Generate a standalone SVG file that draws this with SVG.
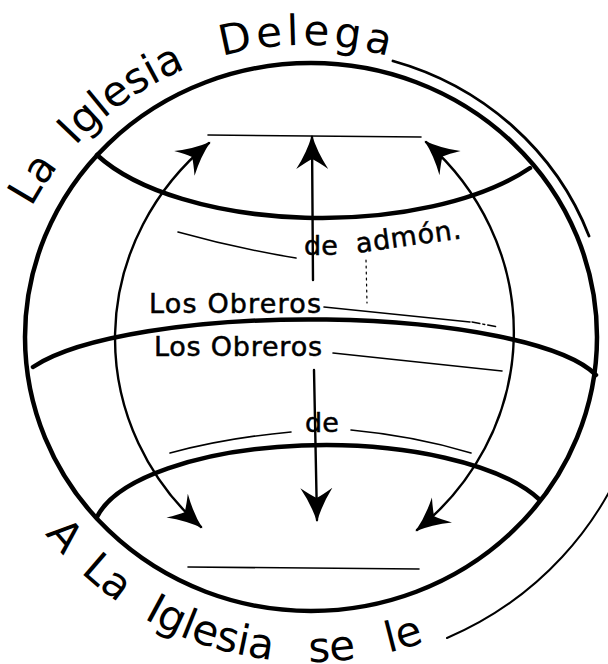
<svg xmlns="http://www.w3.org/2000/svg" width="608" height="664" viewBox="0 0 608 664">
<style>
.k{fill:none;stroke:#000;stroke-linecap:round}
.thick{stroke-width:4.5}
.thin{stroke-width:2.4}
.hair{stroke-width:1.6}
.t{font-family:"DejaVu Sans","Liberation Sans",sans-serif;fill:#000}
.big{font-size:42px}
.med{font-size:27px;stroke:#000;stroke-width:0.5}
</style>
<defs>
<marker id="ah" viewBox="-36 -18 40 36" refX="0" refY="0" markerWidth="40" markerHeight="36" markerUnits="userSpaceOnUse" orient="auto-start-reverse">
<path d="M2,0 Q-15,-5 -32,-16 Q-25,-6 -22,0 Q-25,6 -32,16 Q-15,5 2,0 Z" fill="#000"/>
</marker>
<path id="arcTop" d="M4.1,275.9 A311.5,311.5 0 0 1 460.75,86.7"/>
<path id="arcBot" d="M17.3,493 A338,338 0 0 0 602.7,493"/>
</defs>
<rect width="608" height="664" fill="#fff"/>
<g id="globe">
<ellipse class="k thick" cx="311" cy="337" rx="286" ry="274"/>
<path class="k" stroke-width="2.8" d="M393,61 A298,287 0 0 1 589,236"/>
<path class="k" stroke-width="2" d="M447,638 A338,330 0 0 0 633,437"/>
<path id="lat-top" class="k thick" d="M97,155 A250,112 0 0 0 530,168"/>
<path id="lat-mid" class="k thick" d="M33,367 A295,73 0 0 1 596,375"/>
<path id="lat-bot" class="k thick" d="M97,517 A232,88 0 0 1 540,500"/>
</g>
<g id="connectors">
<path class="k thin" d="M209,143 A276,260 0 0 0 201,527" marker-start="url(#ah)" marker-end="url(#ah)"/>
<path class="k thin" d="M426,142 A276,260 0 0 1 417,530" marker-start="url(#ah)" marker-end="url(#ah)"/>
<path class="k thin" d="M312,137 L313,280" marker-start="url(#ah)"/>
<path class="k thin" d="M314,370 L317,520" marker-end="url(#ah)"/>
</g>
<g id="blanks">
<path class="k hair" d="M208,135 L421,137"/>
<path class="k hair" d="M188,567 L419,569"/>
<path class="k hair" d="M178,232 Q235,248 296,258"/>
<path class="k" stroke-width="1.2" stroke="#555" stroke-dasharray="2 4" d="M366,260 L367,303"/>
<path class="k hair" d="M324,307 L470,322"/>
<path class="k" stroke-width="1.4" stroke-dasharray="8 3 2 3" d="M472,322 L498,327"/>
<path class="k hair" d="M333,353 L502,371"/>
<path class="k hair" d="M170,453 Q225,438 291,432"/>
<path class="k hair" d="M351,430 Q415,436 471,453"/>
</g>
<g id="labels">
<text class="t big"><textPath href="#arcTop" startOffset="98.7" text-anchor="middle">La</textPath></text>
<text class="t big"><textPath href="#arcTop" startOffset="217.5" text-anchor="middle">Iglesia</textPath></text>
<text class="t big" letter-spacing="4"><textPath href="#arcTop" startOffset="409.8" text-anchor="middle">Delega</textPath></text>
<text class="t big"><textPath href="#arcBot" startOffset="63.7" text-anchor="middle">A</textPath></text>
<text class="t big"><textPath href="#arcBot" startOffset="126.2" text-anchor="middle">La</textPath></text>
<text class="t big"><textPath href="#arcBot" startOffset="247.8" text-anchor="middle">Iglesia</textPath></text>
<text class="t big"><textPath href="#arcBot" startOffset="376.4" text-anchor="middle">se</textPath></text>
<text class="t big"><textPath href="#arcBot" startOffset="451.9" text-anchor="middle">le</textPath></text>
<text class="t med" x="304" y="255">de</text>
<text class="t med" x="357" y="253" textLength="106" lengthAdjust="spacing" transform="rotate(-8 357 253)">admón.</text>
<text class="t med" x="149" y="313" textLength="172" lengthAdjust="spacing">Los Obreros</text>
<text class="t med" x="154" y="356" textLength="168" lengthAdjust="spacing">Los Obreros</text>
<text class="t med" x="305" y="432">de</text>
</g>
</svg>
